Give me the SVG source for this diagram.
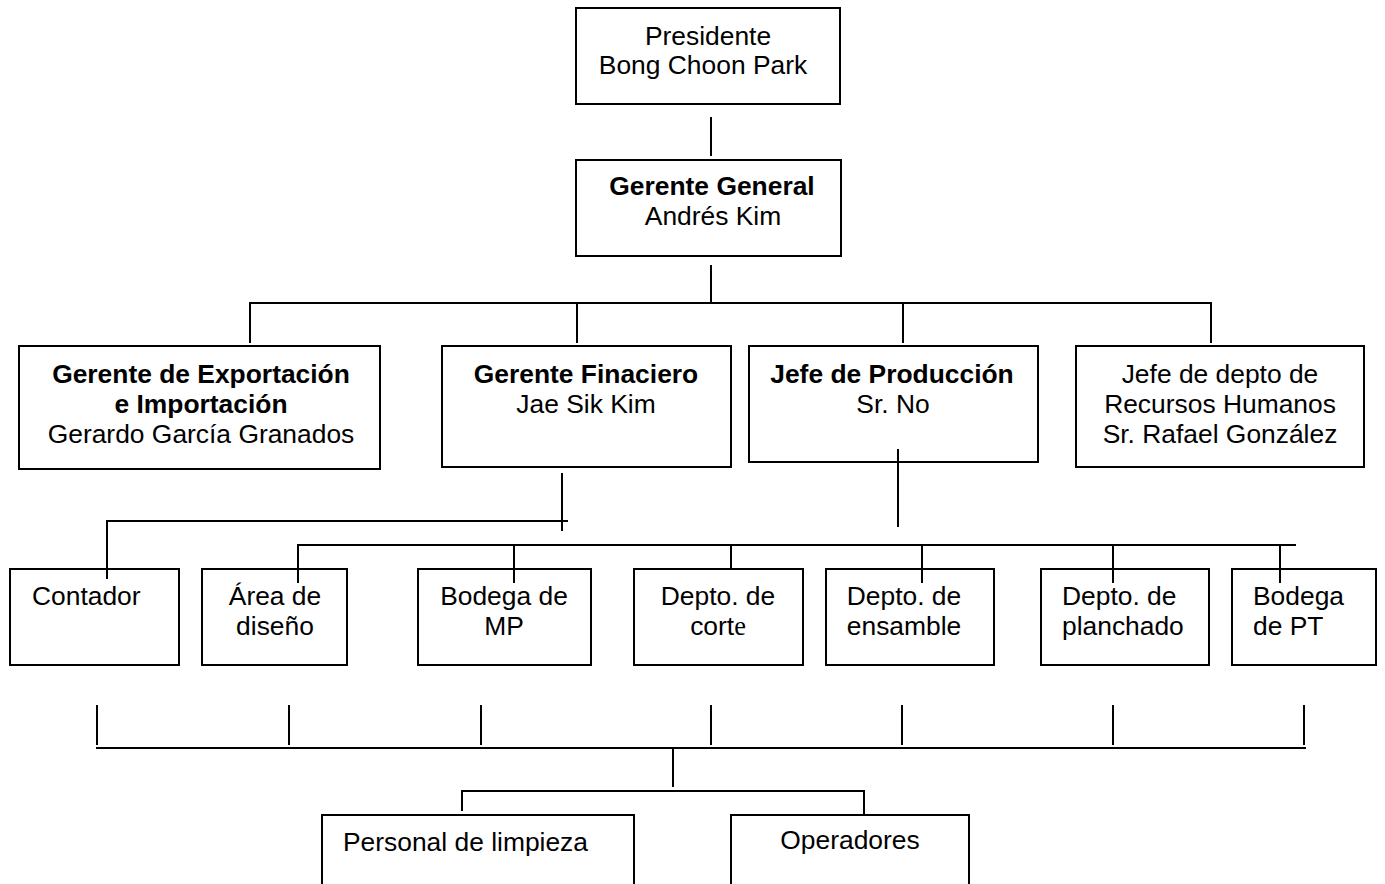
<svg xmlns="http://www.w3.org/2000/svg" width="1385" height="884" viewBox="0 0 1385 884">
<style>
.n{fill:#fff;stroke:#000;stroke-width:2}
line{stroke:#000;stroke-width:2}
text{font-family:"Liberation Sans",Arial,sans-serif;font-size:26.4px;fill:#000}
.c{text-anchor:middle}
.b{font-weight:bold}
.s{font-family:"Liberation Serif","Times New Roman",serif}
</style>
<rect width="1385" height="884" fill="#fff"/>
<g id="presidente">
<rect class="n" x="576" y="8" width="264" height="96"/>
<text class="c" x="708" y="45">Presidente</text>
<text class="c" x="703" y="74">Bong Choon Park</text>
</g>
<g id="gerente-general">
<rect class="n" x="576" y="160" width="265" height="96"/>
<text class="c b" x="712" y="195">Gerente General</text>
<text class="c" x="713" y="225">Andrés Kim</text>
</g>
<g id="gerente-exportacion">
<rect class="n" x="19" y="346" width="361" height="123"/>
<text class="c b" x="201" y="383">Gerente de Exportación</text>
<text class="c b" x="201" y="413">e Importación</text>
<text class="c" x="201" y="443">Gerardo García Granados</text>
</g>
<g id="gerente-financiero">
<rect class="n" x="442" y="346" width="289" height="121"/>
<text class="c b" x="586" y="383">Gerente Finaciero</text>
<text class="c" x="586" y="413">Jae Sik Kim</text>
</g>
<g id="jefe-produccion">
<rect class="n" x="749" y="346" width="289" height="116"/>
<text class="c b" x="892" y="383">Jefe de Producción</text>
<text class="c" x="893" y="413">Sr. No</text>
</g>
<g id="recursos-humanos">
<rect class="n" x="1076" y="346" width="288" height="121"/>
<text class="c" x="1220" y="383">Jefe de depto de</text>
<text class="c" x="1220" y="413">Recursos Humanos</text>
<text class="c" x="1220" y="443">Sr. Rafael González</text>
</g>
<g id="contador">
<rect class="n" x="10" y="569" width="169" height="96"/>
<text x="32" y="605">Contador</text>
</g>
<g id="area-diseno">
<rect class="n" x="202" y="569" width="145" height="96"/>
<text class="c" x="275" y="605">Área de</text>
<text class="c" x="275" y="635">diseño</text>
</g>
<g id="bodega-mp">
<rect class="n" x="418" y="569" width="173" height="96"/>
<text class="c" x="504" y="605">Bodega de</text>
<text class="c" x="504" y="635">MP</text>
</g>
<g id="depto-corte">
<rect class="n" x="634" y="569" width="169" height="96"/>
<text class="c" x="718" y="605">Depto. de</text>
<text class="c" x="718" y="635">cort<tspan class="s">e</tspan></text>
</g>
<g id="depto-ensamble">
<rect class="n" x="826" y="569" width="168" height="96"/>
<text class="c" x="904" y="605">Depto. de</text>
<text class="c" x="904" y="635">ensamble</text>
</g>
<g id="depto-planchado">
<rect class="n" x="1041" y="569" width="168" height="96"/>
<text x="1062" y="605">Depto. de</text>
<text x="1062" y="635">planchado</text>
</g>
<g id="bodega-pt">
<rect class="n" x="1232" y="569" width="144" height="96"/>
<text x="1253" y="605">Bodega</text>
<text x="1253" y="635">de PT</text>
</g>
<g id="personal-limpieza">
<rect class="n" x="322" y="815" width="312" height="90"/>
<text x="343" y="851">Personal de limpieza</text>
</g>
<g id="operadores">
<rect class="n" x="731" y="815" width="238" height="90"/>
<text class="c" x="850" y="849">Operadores</text>
</g>
<g id="connectors">
<line x1="711" y1="117" x2="711" y2="156"/>
<line x1="711" y1="265" x2="711" y2="303"/>
<line x1="249" y1="303" x2="1212" y2="303"/>
<line x1="250" y1="303" x2="250" y2="343"/>
<line x1="577" y1="303" x2="577" y2="343"/>
<line x1="903" y1="303" x2="903" y2="343"/>
<line x1="1211" y1="303" x2="1211" y2="343"/>
<line x1="562" y1="473" x2="562" y2="531"/>
<line x1="106" y1="521" x2="568" y2="521"/>
<line x1="107" y1="520" x2="107" y2="579"/>
<line x1="898" y1="449" x2="898" y2="527"/>
<line x1="297" y1="545" x2="1296" y2="545"/>
<line x1="298" y1="544" x2="298" y2="583"/>
<line x1="514" y1="545" x2="514" y2="583"/>
<line x1="731" y1="545" x2="731" y2="569"/>
<line x1="922" y1="545" x2="922" y2="583"/>
<line x1="1113" y1="545" x2="1113" y2="583"/>
<line x1="1280" y1="545" x2="1280" y2="583"/>
<line x1="97" y1="705" x2="97" y2="745"/>
<line x1="289" y1="705" x2="289" y2="745"/>
<line x1="481" y1="705" x2="481" y2="745"/>
<line x1="711" y1="705" x2="711" y2="745"/>
<line x1="902" y1="705" x2="902" y2="745"/>
<line x1="1113" y1="705" x2="1113" y2="745"/>
<line x1="1304" y1="705" x2="1304" y2="745"/>
<line x1="96" y1="748" x2="1306" y2="748"/>
<line x1="673" y1="748" x2="673" y2="787"/>
<line x1="461" y1="791" x2="865" y2="791"/>
<line x1="462" y1="791" x2="462" y2="811"/>
<line x1="864" y1="791" x2="864" y2="816"/>
</g>
</svg>
